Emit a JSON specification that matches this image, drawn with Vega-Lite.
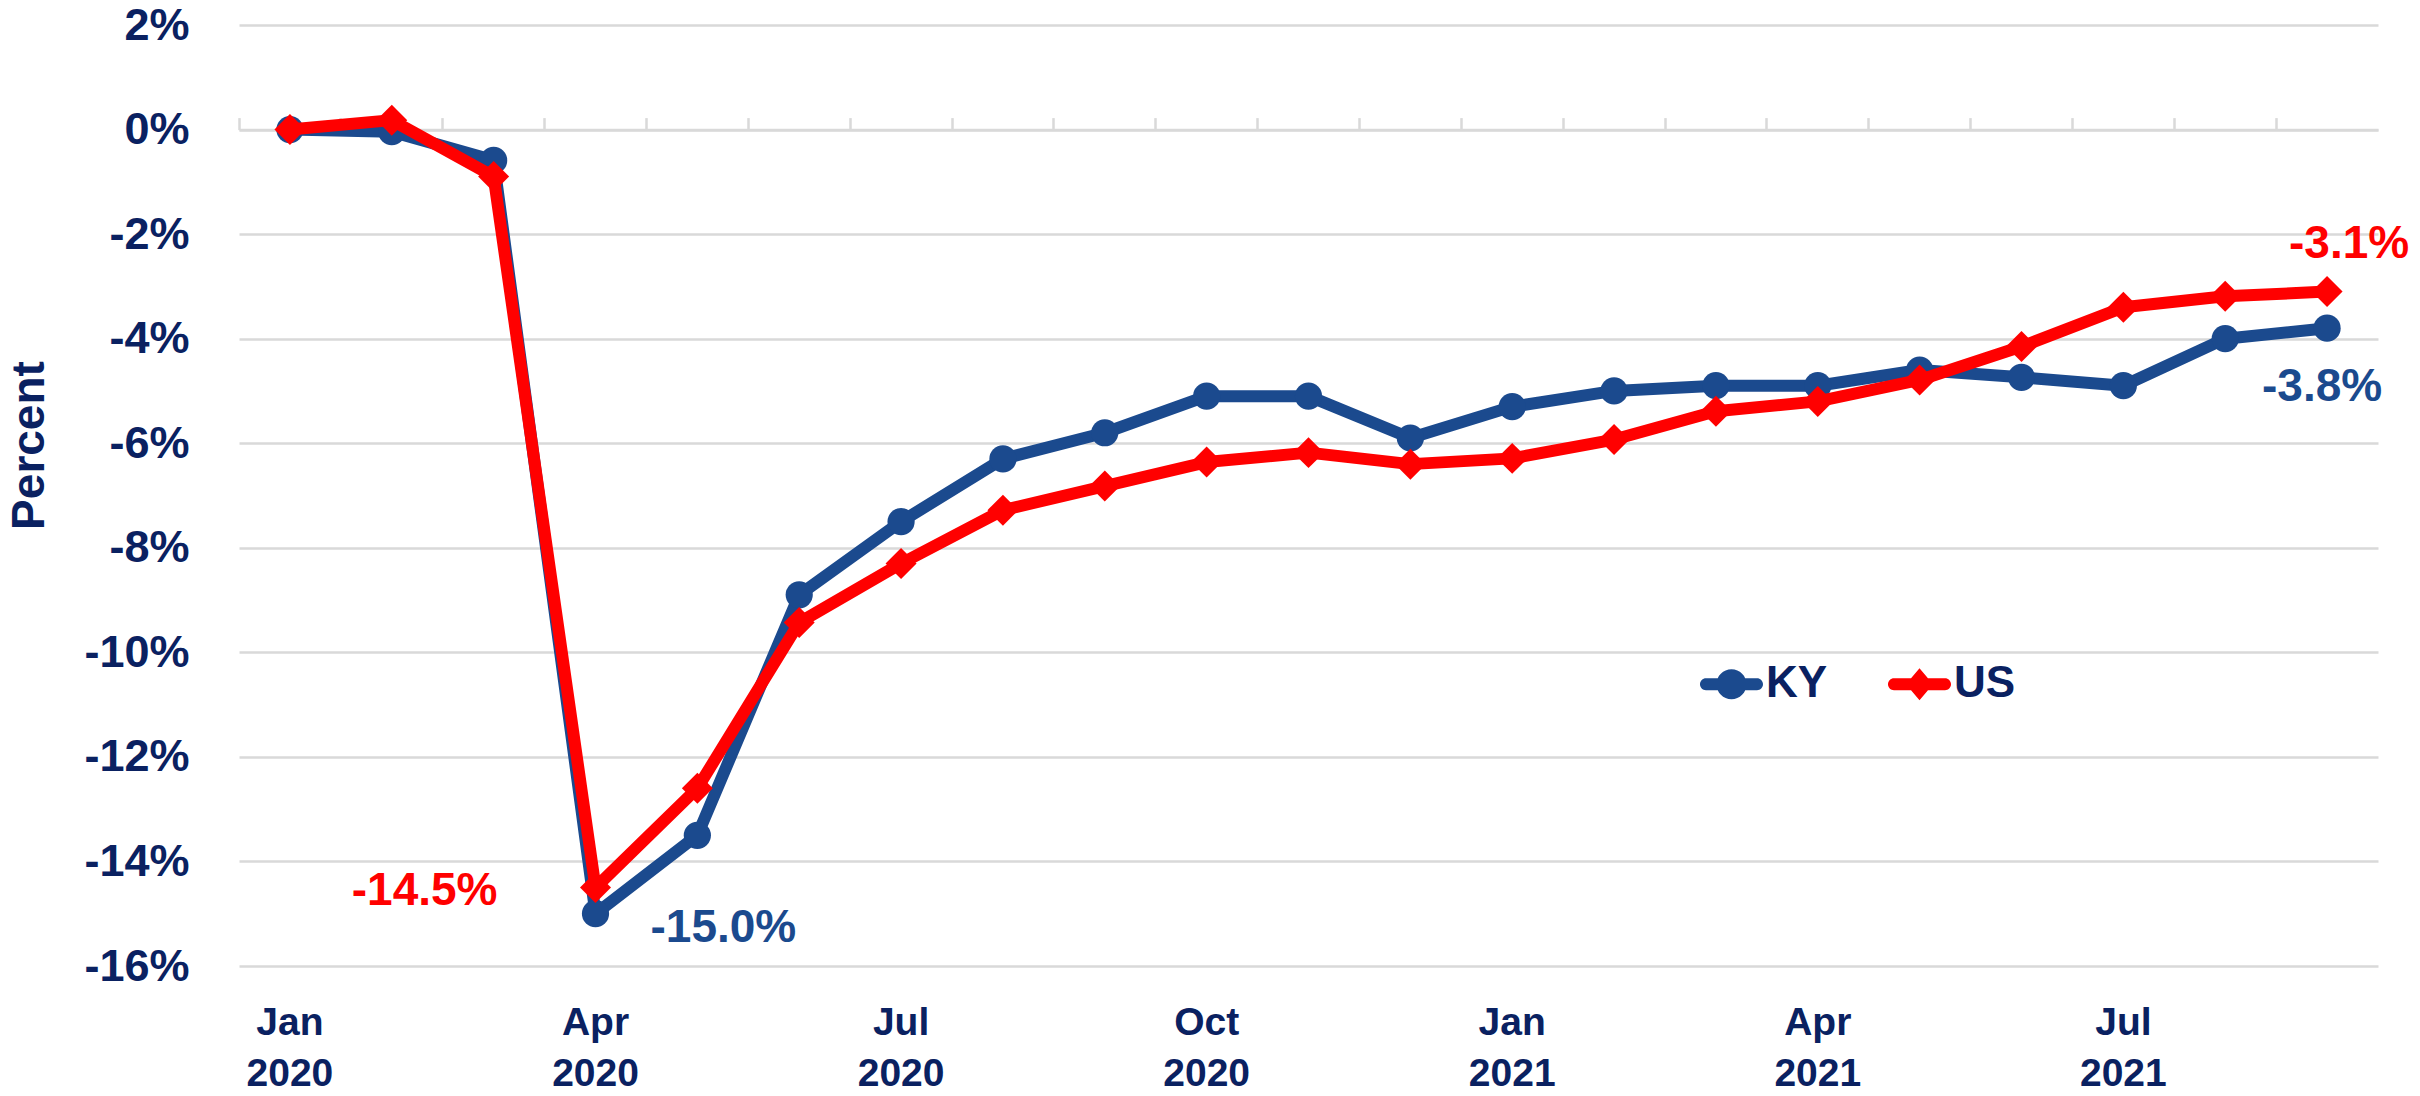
{
  "$schema": "https://vega.github.io/schema/vega-lite/v6.json",
  "width": 2139,
  "height": 941,
  "autosize": {"type": "none"},
  "padding": {"left": 239, "top": 25, "right": 42, "bottom": 130},
  "background": "white",
  "config": {
    "view": {"stroke": null},
    "font": "Liberation Sans, Arial, sans-serif",
    "locale": {"number": {"decimal": ".", "thousands": ",", "grouping": [3], "currency": ["$", ""], "minus": "-"}}
  },
  "data": {
    "values": [
      {"series": "KY", "month": "Jan 2020", "value": 0},
      {"series": "KY", "month": "Feb 2020", "value": -0.0004},
      {"series": "KY", "month": "Mar 2020", "value": -0.0059},
      {"series": "KY", "month": "Apr 2020", "value": -0.150},
      {"series": "KY", "month": "May 2020", "value": -0.135},
      {"series": "KY", "month": "Jun 2020", "value": -0.089},
      {"series": "KY", "month": "Jul 2020", "value": -0.075},
      {"series": "KY", "month": "Aug 2020", "value": -0.063},
      {"series": "KY", "month": "Sep 2020", "value": -0.058},
      {"series": "KY", "month": "Oct 2020", "value": -0.051},
      {"series": "KY", "month": "Nov 2020", "value": -0.051},
      {"series": "KY", "month": "Dec 2020", "value": -0.059},
      {"series": "KY", "month": "Jan 2021", "value": -0.053},
      {"series": "KY", "month": "Feb 2021", "value": -0.050},
      {"series": "KY", "month": "Mar 2021", "value": -0.049},
      {"series": "KY", "month": "Apr 2021", "value": -0.049},
      {"series": "KY", "month": "May 2021", "value": -0.046},
      {"series": "KY", "month": "Jun 2021", "value": -0.0474},
      {"series": "KY", "month": "Jul 2021", "value": -0.049},
      {"series": "KY", "month": "Aug 2021", "value": -0.040},
      {"series": "KY", "month": "Sep 2021", "value": -0.038},
      {"series": "US", "month": "Jan 2020", "value": 0},
      {"series": "US", "month": "Feb 2020", "value": 0.0018},
      {"series": "US", "month": "Mar 2020", "value": -0.009},
      {"series": "US", "month": "Apr 2020", "value": -0.145},
      {"series": "US", "month": "May 2020", "value": -0.126},
      {"series": "US", "month": "Jun 2020", "value": -0.0943},
      {"series": "US", "month": "Jul 2020", "value": -0.083},
      {"series": "US", "month": "Aug 2020", "value": -0.0728},
      {"series": "US", "month": "Sep 2020", "value": -0.0682},
      {"series": "US", "month": "Oct 2020", "value": -0.0636},
      {"series": "US", "month": "Nov 2020", "value": -0.0618},
      {"series": "US", "month": "Dec 2020", "value": -0.064},
      {"series": "US", "month": "Jan 2021", "value": -0.0629},
      {"series": "US", "month": "Feb 2021", "value": -0.0593},
      {"series": "US", "month": "Mar 2021", "value": -0.0539},
      {"series": "US", "month": "Apr 2021", "value": -0.052},
      {"series": "US", "month": "May 2021", "value": -0.0479},
      {"series": "US", "month": "Jun 2021", "value": -0.0415},
      {"series": "US", "month": "Jul 2021", "value": -0.034},
      {"series": "US", "month": "Aug 2021", "value": -0.0319},
      {"series": "US", "month": "Sep 2021", "value": -0.031}
    ]
  },
  "layer": [
    {
      "transform": [{"filter": "datum.series === 'KY'"}],
      "mark": {"type": "line", "strokeWidth": 12, "strokeJoin": "round", "strokeCap": "round"},
      "encoding": {
        "x": {
          "field": "month", "type": "ordinal", "sort": null,
          "scale": {"type": "band", "paddingInner": 0, "paddingOuter": 0},
          "axis": {
            "orient": "bottom", "title": null, "domain": false, "ticks": false, "grid": false,
            "labelExpr": "indexof(['Jan','Apr','Jul','Oct'], slice(datum.value, 0, 3)) >= 0 ? split(datum.value, ' ') : ''",
            "labelFontSize": 39, "labelFontWeight": "bold", "labelColor": "#0A2161",
            "labelPadding": 37, "labelLineHeight": 51, "labelAngle": 0, "labelBaseline": "top",
            "labelOverlap": false, "labelBound": false
          }
        },
        "y": {
          "field": "value", "type": "quantitative",
          "scale": {"domain": [-0.16, 0.02], "nice": false, "zero": false},
          "axis": {
            "values": [-0.16, -0.14, -0.12, -0.1, -0.08, -0.06, -0.04, -0.02, 0, 0.02],
            "format": ".0%",
            "title": "Percent", "titleFontSize": 46, "titleFontWeight": "bold", "titleColor": "#0A2161",
            "titleAngle": 270, "titleX": -195.5, "titleY": 420, "titleAlign": "center", "titleBaseline": "alphabetic",
            "labelFontSize": 45, "labelFontWeight": "bold", "labelColor": "#0A2161", "labelPadding": 50,
            "domain": false, "ticks": false, "grid": true, "gridColor": "#D9D9D9", "gridWidth": 2.5
          }
        },
        "color": {
          "field": "series", "type": "nominal",
          "scale": {"domain": ["KY", "US"], "range": ["#1B4A8E", "#FF0000"]},
          "legend": {
            "title": null, "orient": "none", "legendX": 1461, "legendY": 627.5,
            "direction": "horizontal", "symbolSize": 3969,
            "labelFontSize": 44, "labelFontWeight": "bold", "labelColor": "#0A2161",
            "labelOffset": 3, "columnPadding": 60, "padding": 0, "labelBaseline": "middle",
            "encode": {
              "symbols": {
                "update": {
                  "shape": {"signal": "datum.value === 'KY' ? 'M-0.81,-0.19L0.81,-0.19A0.19,0.19,0,0,1,0.81,0.19L-0.81,0.19A0.19,0.19,0,0,1,-0.81,-0.19ZM0.476,0A0.476,0.476,0,1,1,-0.476,0A0.476,0.476,0,1,1,0.476,0Z' : 'M-0.81,-0.19L0.81,-0.19A0.19,0.19,0,0,1,0.81,0.19L-0.81,0.19A0.19,0.19,0,0,1,-0.81,-0.19ZM0,-0.51L0.43,0L0,0.51L-0.43,0Z'"},
                  "fill": {"signal": "datum.value === 'KY' ? '#1B4A8E' : '#FF0000'"},
                  "stroke": {"value": "transparent"},
                  "strokeWidth": {"value": 0},
                  "opacity": {"value": 1}
                }
              }
            }
          }
        }
      }
    },
    {
      "transform": [{"filter": "datum.series === 'KY'"}],
      "mark": {"type": "point", "filled": true, "shape": "circle", "size": 740, "opacity": 1},
      "encoding": {
        "x": {
          "field": "month", "type": "ordinal", "sort": null,
          "axis": {
            "orient": "top", "offset": -104.6, "title": null, "labels": false, "grid": false,
            "domain": true, "domainColor": "#D9D9D9", "domainWidth": 2.5,
            "ticks": true, "tickColor": "#D9D9D9", "tickWidth": 2.5, "tickSize": 12, "bandPosition": 0
          }
        },
        "y": {"field": "value", "type": "quantitative"},
        "color": {"field": "series", "type": "nominal"}
      }
    },
    {
      "transform": [{"filter": "datum.series === 'US'"}],
      "mark": {"type": "line", "strokeWidth": 12, "strokeJoin": "round", "strokeCap": "round"},
      "encoding": {
        "x": {"field": "month", "type": "ordinal", "sort": null, "axis": null},
        "y": {"field": "value", "type": "quantitative"},
        "color": {"field": "series", "type": "nominal"}
      }
    },
    {
      "transform": [{"filter": "datum.series === 'US'"}],
      "mark": {"type": "point", "filled": true, "shape": "diamond", "size": 960, "opacity": 1},
      "encoding": {
        "x": {"field": "month", "type": "ordinal", "sort": null, "axis": null},
        "y": {"field": "value", "type": "quantitative"},
        "color": {"field": "series", "type": "nominal"}
      }
    },
    {
      "transform": [{"filter": "datum.series === 'US' && datum.month === 'Apr 2020'"}],
      "mark": {"type": "text", "fontSize": 46, "fontWeight": "bold", "color": "#FF0000", "align": "right", "baseline": "alphabetic", "dx": -98, "dy": 17},
      "encoding": {
        "x": {"field": "month", "type": "ordinal", "sort": null, "axis": null},
        "y": {"field": "value", "type": "quantitative"},
        "text": {"field": "value", "type": "quantitative", "format": ".1%"}
      }
    },
    {
      "transform": [{"filter": "datum.series === 'KY' && datum.month === 'Apr 2020'"}],
      "mark": {"type": "text", "fontSize": 46, "fontWeight": "bold", "color": "#1B4A8E", "align": "left", "baseline": "alphabetic", "dx": 55, "dy": 28.5},
      "encoding": {
        "x": {"field": "month", "type": "ordinal", "sort": null, "axis": null},
        "y": {"field": "value", "type": "quantitative"},
        "text": {"field": "value", "type": "quantitative", "format": ".1%"}
      }
    },
    {
      "transform": [{"filter": "datum.series === 'US' && datum.month === 'Sep 2021'"}],
      "mark": {"type": "text", "fontSize": 46, "fontWeight": "bold", "color": "#FF0000", "align": "center", "baseline": "alphabetic", "dx": 22, "dy": -34},
      "encoding": {
        "x": {"field": "month", "type": "ordinal", "sort": null, "axis": null},
        "y": {"field": "value", "type": "quantitative"},
        "text": {"field": "value", "type": "quantitative", "format": ".1%"}
      }
    },
    {
      "transform": [{"filter": "datum.series === 'KY' && datum.month === 'Sep 2021'"}],
      "mark": {"type": "text", "fontSize": 46, "fontWeight": "bold", "color": "#1B4A8E", "align": "center", "baseline": "alphabetic", "dx": -5, "dy": 73},
      "encoding": {
        "x": {"field": "month", "type": "ordinal", "sort": null, "axis": null},
        "y": {"field": "value", "type": "quantitative"},
        "text": {"field": "value", "type": "quantitative", "format": ".1%"}
      }
    }
  ],
  "resolve": {"axis": {"x": "independent"}}
}
